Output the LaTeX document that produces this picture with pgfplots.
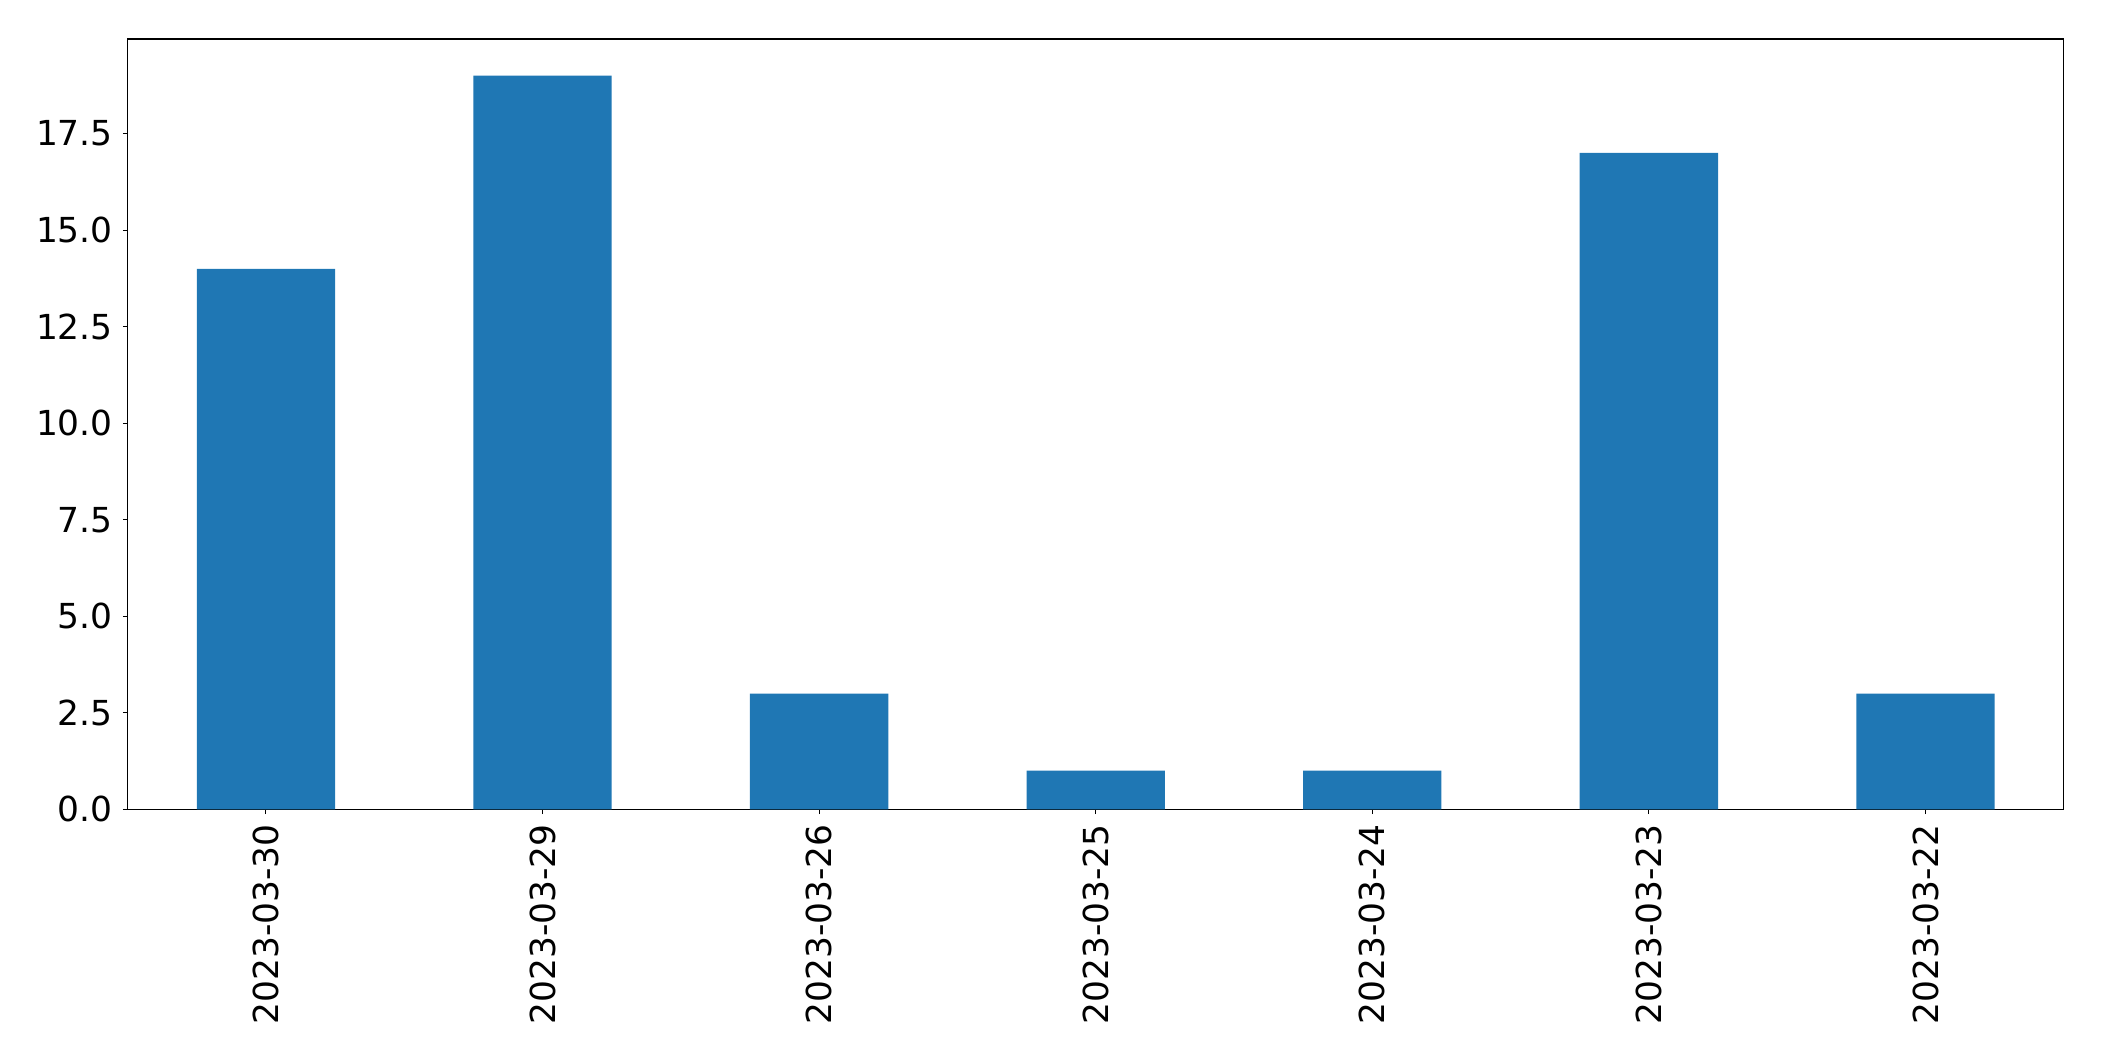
\documentclass[border=0pt]{standalone}
\usepackage{fontspec}
\setmainfont{DejaVu Sans}
\usepackage{pgfplots}
\pgfplotsset{compat=1.18}
\definecolor{mplblue}{HTML}{1F77B4}
\begin{document}
\begin{tikzpicture}
\begin{axis}[
  at={(91.9bp,181.2bp)}, anchor=south west,
  scale only axis,
  width=1394.1bp, height=554.6bp,
  xmin=-0.5, xmax=6.5, ymin=0, ymax=19.95,
  axis line style={line width=0.8bp},
  tick style={line width=0.8bp, black},
  tick align=outside,
  major tick length=3.5bp,
  xtick={0,1,2,3,4,5,6},
  xticklabels={2023-03-30,2023-03-29,2023-03-26,2023-03-25,2023-03-24,2023-03-23,2023-03-22},
  ytick={0,2.5,5,7.5,10,12.5,15,17.5},
  x tick label style={rotate=90, anchor=east, inner sep=0pt, font=\fontsize{24.8bp}{29bp}\selectfont},
  y tick label style={inner sep=0pt, font=\fontsize{24.8bp}{29bp}\selectfont},
  xticklabel shift=7bp,
  yticklabel shift=7bp,
  yticklabel style={/pgf/number format/.cd, fixed, fixed zerofill, precision=1, assume math mode=true},
  xtick pos=bottom, ytick pos=left,
  clip=false,
]
\addplot[ybar, bar width=0.5, fill=mplblue, draw=none] coordinates {
  (0,14) (1,19) (2,3) (3,1) (4,1) (5,17) (6,3)
};
\end{axis}
\pgfresetboundingbox
\path[use as bounding box] (0,0) rectangle (1514.88bp,763.92bp);
\end{tikzpicture}
\end{document}
